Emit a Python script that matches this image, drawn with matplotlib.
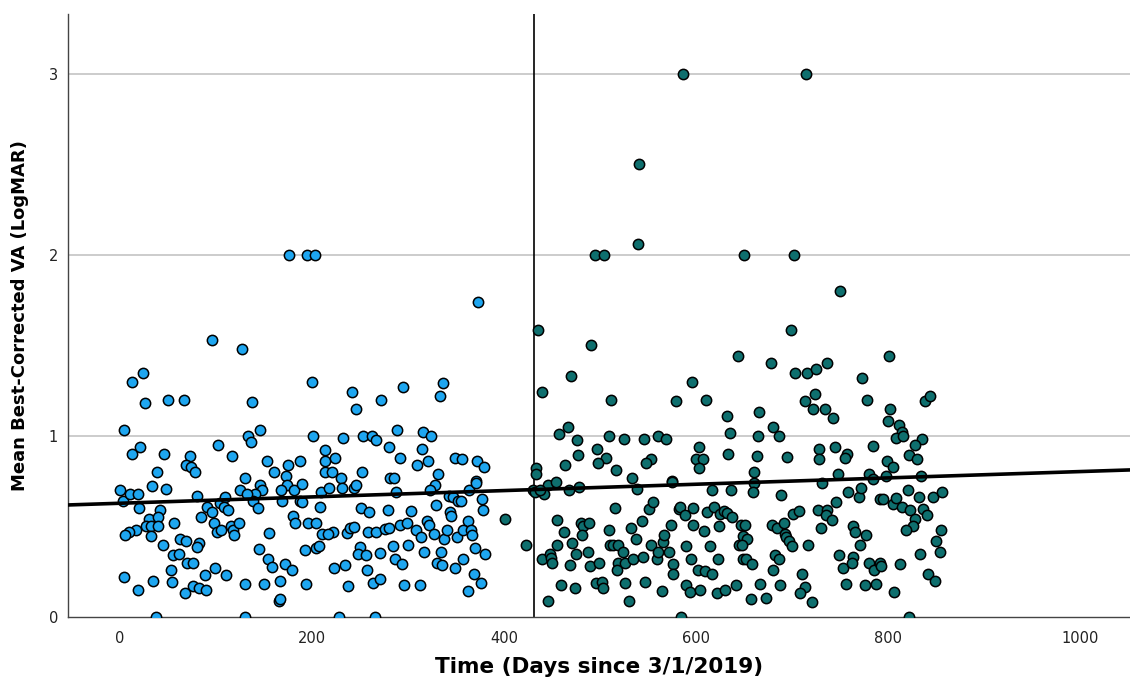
import numpy as np
import matplotlib
matplotlib.use("Agg")
import matplotlib.pyplot as plt

# pre-intervention visits (days since 3/1/2019, mean BCVA logMAR)
pre_days = [96.5, 127, 24, 13, 200, 26, 50, 67, 138, 4, 146, 134, 137, 201, 21.5, 12.5, 46.5, 73, 102, 117,
            69, 74, 78, 39, 153, 161, 175, 173, 188, 213.5, 213.5, 213.5, 130,
            0, 3.5, 11, 19, 34, 48.6, 20, 41.7, 31, 40, 27, 32.6, 40, 57, 17, 9.4, 6, 33, 80.5, 91, 96, 85,
            104, 110, 109, 113, 98, 101, 106, 116, 118, 119, 124, 45, 62.5, 69.5, 83, 81, 55.5, 62, 70, 76,
            53.5, 54, 5, 19.5, 35, 68, 76, 82.6, 90, 89, 99, 111, 38, 131, 146.5, 148, 141, 139, 144.5,
            125, 133, 174, 168, 181.5, 169, 190, 187.5, 189.5, 180, 183, 196, 204, 210, 209, 211, 155, 145,
            154, 159, 172, 179, 193, 204, 208, 130.5, 150.7, 167, 166, 167, 194,
            242, 246, 272.6, 295, 337, 334, 289, 233, 253.5, 263, 267.4, 316, 324, 280.5, 315, 292, 310,
            321, 349, 356, 372, 379, 224, 221.5, 230.5, 252, 282, 286, 331, 371.5,
            218, 231, 244, 246.5, 288, 328, 323, 343, 347, 352, 355.5, 364, 371.5, 377, 378, 251, 259.6,
            279, 303, 329, 344, 345.5, 362.5, 222, 217, 237, 240, 244, 258.6, 267, 276, 280, 292, 299, 309,
            314, 319.5, 322, 327, 337.5, 341, 351, 358, 366, 367, 250, 248.6, 257, 271.5, 284.7, 300, 287,
            294, 317, 334.7, 330, 336, 349, 357, 370, 380, 223, 235, 257.6, 264, 271, 237.5, 296, 312.5,
            369, 376, 363, 228.5, 265.6, 176, 195, 203, 373]
pre_va = [1.53, 1.48, 1.35, 1.30, 1.30, 1.18, 1.20, 1.20, 1.19, 1.03, 1.03, 1.0, 0.965, 1.0, 0.94, 0.90,
          0.90, 0.89, 0.95, 0.89, 0.84, 0.83, 0.80, 0.80, 0.86, 0.80, 0.84, 0.78, 0.86, 0.92, 0.86, 0.80, 0.77,
          0.70, 0.64, 0.68, 0.68, 0.725, 0.705, 0.60, 0.59, 0.54, 0.55, 0.50, 0.50, 0.50, 0.52, 0.48, 0.47,
          0.45, 0.446, 0.67, 0.61, 0.58, 0.55, 0.63, 0.665, 0.61, 0.59, 0.52, 0.47, 0.48, 0.50, 0.48, 0.45,
          0.52, 0.40, 0.43, 0.42, 0.41, 0.385, 0.34, 0.35, 0.30, 0.30, 0.26, 0.195, 0.22, 0.15, 0.20, 0.135,
          0.17, 0.16, 0.15, 0.23, 0.27, 0.23, 0.0, 0.0, 0.73, 0.70, 0.68, 0.64, 0.60, 0.70, 0.68, 0.73,
          0.70, 0.70, 0.64, 0.735, 0.64, 0.635, 0.555, 0.52, 0.52, 0.52, 0.69, 0.61, 0.46, 0.465, 0.375,
          0.32, 0.275, 0.29, 0.26, 0.37, 0.38, 0.39, 0.18, 0.18, 0.20, 0.09, 0.10, 0.18,
          1.24, 1.15, 1.20, 1.27, 1.29, 1.22, 1.03, 0.99, 1.0, 1.0, 0.98, 1.02, 1.0, 0.94, 0.93, 0.88, 0.84,
          0.86, 0.88, 0.875, 0.86, 0.83, 0.88, 0.80, 0.77, 0.80, 0.77, 0.77, 0.79, 0.75,
          0.71, 0.715, 0.71, 0.73, 0.69, 0.73, 0.70, 0.67, 0.66, 0.64, 0.64, 0.70, 0.74, 0.65, 0.59, 0.60,
          0.58, 0.59, 0.585, 0.62, 0.58, 0.56, 0.53, 0.47, 0.46, 0.465, 0.49, 0.495, 0.47, 0.47, 0.485,
          0.49, 0.51, 0.52, 0.48, 0.44, 0.53, 0.51, 0.46, 0.43, 0.48, 0.44, 0.48, 0.48, 0.45, 0.385, 0.35,
          0.34, 0.355, 0.39, 0.40, 0.32, 0.29, 0.36, 0.36, 0.30, 0.285, 0.27, 0.32, 0.38, 0.35, 0.27, 0.285,
          0.26, 0.19, 0.21, 0.17, 0.175, 0.175, 0.24, 0.19, 0.145, 0.0, 0.0, 2.0, 2.0, 2.0, 1.74]

# post-intervention visits
post_days = [401.4, 423, 430.5, 435.7, 490.6, 644, 470, 440, 595.5, 512, 579, 611, 632, 467, 457, 476, 509,
             525, 546, 561, 569, 636, 497, 477, 463.5, 506, 498, 516.7, 533, 553.5, 548, 574.6, 603.5, 600.6,
             607.6, 603, 633, 433, 434, 446, 454, 432.6, 441.7, 437.5, 468, 478, 539, 575, 617, 636.5,
             455.6, 462.5, 471, 455, 480.5, 482.6, 489, 481, 475, 487.5, 439.6, 448, 449, 450, 469, 489.6,
             499, 460, 473.6, 446, 496, 502, 503, 516, 509.7, 511, 514, 519, 523.6, 519, 518, 526, 532, 538,
             534, 545, 526, 530.5, 547, 544, 551, 555.5, 553, 560, 561, 566, 567, 572, 573.6, 576, 575.7,
             565, 582, 583, 589, 597, 596.5, 608, 590, 595, 589.6, 594, 604, 584, 601.7, 609.7, 616.7, 612,
             619, 625, 629.5, 632, 638, 623.6, 614.6, 623, 621.5, 630, 642, 646.5, 645, 649, 649,
             698.6, 678, 703, 716, 724.6, 737, 800.7, 773, 713.5, 723.6, 722, 734.7, 743, 778, 802, 800,
             839, 844, 666, 680.5, 687, 665, 664, 695, 660, 728, 728.5, 744.5, 757, 755, 748, 784, 811,
             814.6, 808, 816, 835.4, 828.5, 822, 830, 798.6, 804.8, 780.5, 798, 834.7,
             660, 659, 689, 731, 758, 769.5, 771.5, 784, 791.7, 794.5, 805, 808, 814.6, 821, 832.6, 847,
             856, 823, 828, 836, 841, 826, 819, 855, 850, 854, 833.7, 813, 842, 849, 806, 822, 651, 653,
             648, 652, 658, 679, 684.7, 692, 692.6, 694, 697, 700, 701, 707.6, 717, 727, 737, 735, 742, 730,
             746, 682, 687, 680, 710, 714, 708, 721, 688, 667, 657, 673, 764, 765.6, 777, 771, 749, 753,
             764, 763, 780, 785, 792, 793, 756, 776, 787.5,
             587, 715, 541, 540, 495, 504, 650, 702, 750]
post_va = [0.54, 0.40, 0.70, 1.585, 1.50, 1.44, 1.33, 1.24, 1.30, 1.20, 1.195, 1.20, 1.11, 1.05, 1.01, 0.975,
           1.0, 0.985, 0.985, 1.0, 0.985, 1.015, 0.93, 0.895, 0.84, 0.88, 0.85, 0.81, 0.77, 0.875, 0.85,
           0.75, 0.94, 0.87, 0.87, 0.82, 0.90, 0.82, 0.79, 0.73, 0.745, 0.69, 0.68, 0.70, 0.70, 0.72, 0.705,
           0.745, 0.70, 0.70, 0.535, 0.47, 0.41, 0.40, 0.52, 0.50, 0.52, 0.45, 0.35, 0.36, 0.32, 0.35, 0.325,
           0.30, 0.285, 0.28, 0.30, 0.175, 0.16, 0.09, 0.185, 0.195, 0.16, 0.60, 0.48, 0.40, 0.40, 0.395,
           0.36, 0.30, 0.26, 0.30, 0.49, 0.43, 0.32, 0.33, 0.19, 0.09, 0.195, 0.53, 0.595, 0.635, 0.395,
           0.32, 0.36, 0.415, 0.45, 0.36, 0.51, 0.29, 0.24, 0.145, 0.595, 0.61, 0.565, 0.60, 0.51, 0.475,
           0.39, 0.32, 0.175, 0.14, 0.15, 0.0, 0.26, 0.255, 0.24, 0.58, 0.61, 0.57, 0.585, 0.575, 0.55,
           0.50, 0.39, 0.32, 0.13, 0.15, 0.175, 0.51, 0.40, 0.32, 0.445,
           1.585, 1.40, 1.35, 1.345, 1.37, 1.40, 1.44, 1.32, 1.195, 1.23, 1.15, 1.15, 1.10, 1.20, 1.15,
           1.085, 1.195, 1.22, 1.13, 1.05, 1.0, 1.0, 0.89, 0.885, 0.80, 0.93, 0.875, 0.94, 0.90, 0.88, 0.79,
           0.945, 1.06, 1.02, 0.99, 1.0, 0.985, 0.95, 0.895, 0.87, 0.86, 0.83, 0.79, 0.78, 0.78,
           0.74, 0.69, 0.675, 0.74, 0.69, 0.665, 0.71, 0.76, 0.65, 0.65, 0.625, 0.655, 0.61, 0.70, 0.66,
           0.66, 0.69, 0.59, 0.54, 0.595, 0.565, 0.50, 0.48, 0.48, 0.42, 0.36, 0.35, 0.29, 0.24, 0.20, 0.14,
           0.0, 0.51, 0.43, 0.40, 0.32, 0.29, 0.51, 0.49, 0.52, 0.46, 0.44, 0.42, 0.39, 0.57, 0.585, 0.40,
           0.59, 0.59, 0.565, 0.535, 0.49, 0.635, 0.34, 0.32, 0.26, 0.24, 0.165, 0.13, 0.085, 0.175, 0.18,
           0.10, 0.105, 0.50, 0.47, 0.45, 0.40, 0.345, 0.27, 0.33, 0.30, 0.30, 0.26, 0.30, 0.28, 0.18,
           0.175, 0.18,
           3.0, 3.0, 2.50, 2.06, 2.0, 2.0, 2.0, 2.0, 1.80]

intervention_day = 431
# overall linear fit as printed in the source chart (intercept, slope per day)
fit_intercept = 0.628
fit_slope = 0.000175
y_ticks = [0, 1, 2, 3]
x_ticks = [0, 200, 400, 600, 800, 1000]

fig = plt.figure(figsize=(11.3, 6.84), dpi=100)
ax = fig.add_axes([0.060, 0.098, 0.940, 0.8815])

for y in y_ticks[1:]:
    ax.axhline(y, color="#c8c8c8", lw=1.3, zorder=0)

ax.scatter(pre_days, pre_va, s=55, color="#1ea6f0", edgecolors="black", linewidths=1.1, zorder=3)
ax.scatter(post_days, post_va, s=55, color="#0e6f6e", edgecolors="black", linewidths=1.1, zorder=3)

ax.axvline(intervention_day, color="black", lw=1.2, zorder=2)

xs = np.array([-60, 1060])
ax.plot(xs, fit_intercept + fit_slope * xs, color="black", lw=2.6, zorder=4)

ax.set_xlim(-54, 1052)
ax.set_ylim(0, 3.33)
ax.set_xticks(x_ticks)
ax.set_yticks(y_ticks)

for side in ["top", "right"]:
    ax.spines[side].set_visible(False)
for side in ["left", "bottom"]:
    ax.spines[side].set_color("#444444")
    ax.spines[side].set_linewidth(1.0)

ax.tick_params(axis="both", length=0, labelsize=10.5, colors="#222222")
ax.tick_params(axis="x", pad=10)
ax.tick_params(axis="y", pad=7)
for lab in ax.get_xticklabels() + ax.get_yticklabels():
    lab.set_family(["Liberation Sans Narrow", "DejaVu Sans"])

ax.set_xlabel("Time (Days since 3/1/2019)", fontsize=15.5, fontweight="bold", labelpad=8)
ax.set_ylabel("Mean Best-Corrected VA (LogMAR)", fontsize=13, fontweight="bold", labelpad=14)

fig.savefig("out.png", dpi=100)
